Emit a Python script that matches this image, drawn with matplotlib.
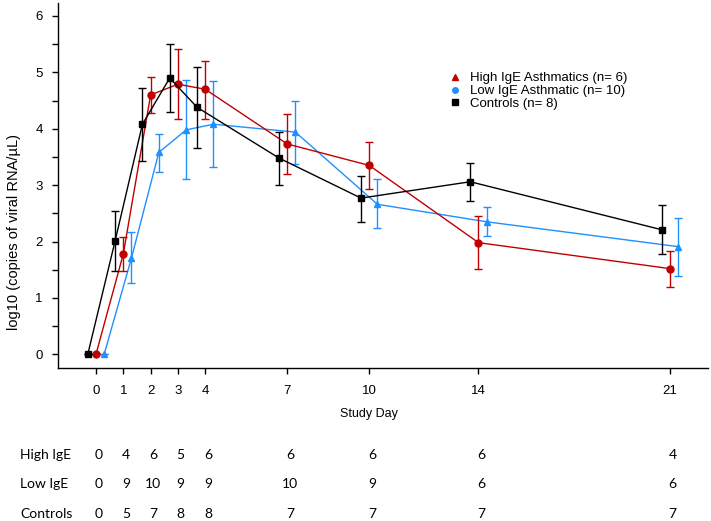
import matplotlib
matplotlib.use("Agg")
import matplotlib.pyplot as plt
from matplotlib.lines import Line2D
from matplotlib.ticker import MultipleLocator
import matplotlib.transforms as mtransforms
import numpy as np

# ---- data ----
days = [0, 1, 2, 3, 4, 7, 10, 14, 21]

high_mean  = [0, 1.78, 4.60, 4.79, 4.70, 3.73, 3.35, 1.98, 1.52]
high_upper = [0, 2.08, 4.91, 5.42, 5.21, 4.26, 3.76, 2.45, 1.84]
high_lower = [0, 1.47, 4.28, 4.17, 4.18, 3.20, 2.93, 1.52, 1.19]

low_mean  = [0, 1.71, 3.58, 3.98, 4.08, 3.94, 2.66, 2.35, 1.91]
low_upper = [0, 2.16, 3.91, 4.87, 4.84, 4.50, 3.10, 2.61, 2.42]
low_lower = [0, 1.26, 3.24, 3.10, 3.33, 3.38, 2.24, 2.09, 1.39]

ctrl_mean  = [0, 2.01, 4.08, 4.90, 4.38, 3.48, 2.77, 3.06, 2.21]
ctrl_upper = [0, 2.54, 4.72, 5.51, 5.09, 3.94, 3.17, 3.39, 2.65]
ctrl_lower = [0, 1.47, 3.43, 4.30, 3.66, 3.00, 2.34, 2.72, 1.78]

high_n = [0, 4, 6, 5, 6, 6, 6, 6, 4]
low_n  = [0, 9, 10, 9, 9, 10, 9, 6, 6]
ctrl_n = [0, 5, 7, 8, 8, 7, 7, 7, 7]

row_labels = ["High IgE", "Low IgE", "Controls"]
legend_labels = ["High IgE Asthmatics (n= 6)", "Low IgE Asthmatic (n= 10)", "Controls (n= 8)"]

RED = "#C00000"
BLUE = "#1E90FF"
BLACK = "#000000"

fig = plt.figure(figsize=(7.11, 5.21), dpi=100)
W, H = 711, 521
ax = fig.add_axes([58 / W, 1 - 368 / H, (708 - 58) / W, (368 - 3) / H])

d = np.array(days, dtype=float)

def plot_series(offset, mean, lo, up, color, marker, ms, z):
    mean = np.array(mean); lo = np.array(lo); up = np.array(up)
    yerr = np.vstack([mean - lo, up - mean])
    ax.errorbar(d + offset, mean, yerr=yerr, color=color, marker=marker,
                markersize=ms, lw=1.0, elinewidth=1.0, capsize=3.2,
                capthick=1.0, zorder=z)

plot_series(0.0, high_mean, high_lower, high_upper, RED, "o", 5, 3)
plot_series(0.3, low_mean, low_lower, low_upper, BLUE, "^", 5, 2)
plot_series(-0.3, ctrl_mean, ctrl_lower, ctrl_upper, BLACK, "s", 5, 4)

ax.set_xlim(-1.39, 22.4)
ax.set_ylim(-0.243, 6.23)
ax.set_xticks(days)
ax.set_xticklabels([str(x) for x in days])
ax.yaxis.set_major_locator(MultipleLocator(1))
ax.yaxis.set_minor_locator(MultipleLocator(0.5))

for s in ["top", "right"]:
    ax.spines[s].set_visible(False)
for s in ["left", "bottom"]:
    ax.spines[s].set_linewidth(1.0)

ax.tick_params(axis="both", which="both", direction="out", length=4, width=1.0)
ax.tick_params(axis="x", pad=8)
ax.tick_params(axis="y", pad=7)
for lab in ax.get_xticklabels() + ax.get_yticklabels():
    lab.set_fontfamily("Liberation Sans")
    lab.set_fontsize(9.5)

ax.set_ylabel("log10 (copies of viral RNA/\u00b5L)", fontsize=10.5,
              family="Liberation Sans")
ax.yaxis.set_label_coords((14 - 58) / 650, (368 - 232) / 365)
ax.yaxis.label.set_va("center")

ax.set_xlabel("Study Day", fontsize=9, family=["Liberation Sans Narrow", "Liberation Sans"])
ax.xaxis.set_label_coords((369 - 58) / 650, (368 - 414) / 365)
ax.xaxis.label.set_va("center")

# legend (markers as in the reference legend)
handles = [
    Line2D([], [], color=RED, marker="^", ls="none", markersize=4.5),
    Line2D([], [], color=BLUE, marker="o", ls="none", markersize=4),
    Line2D([], [], color=BLACK, marker="s", ls="none", markersize=4),
]
leg = ax.legend(handles, legend_labels, loc="upper left",
                bbox_to_anchor=(448 / W, 1 - 72 / H), bbox_transform=fig.transFigure,
                frameon=False, handlelength=1.0, handletextpad=0.7,
                labelspacing=0.05, borderpad=0, borderaxespad=0,
                prop={"family": "Liberation Sans", "size": 9.5})

# count table below
trans = mtransforms.blended_transform_factory(ax.transData, fig.transFigure)
row_y = [1 - 455 / H, 1 - 484.5 / H, 1 - 514 / H]
for lab, counts, y in zip(row_labels, [high_n, low_n, ctrl_n], row_y):
    fig.text(20 / W, y, lab, ha="left", va="center", fontsize=10, family="Lato")
    for xd, c in zip(days, counts):
        ax.text(xd + 0.1, y, str(c), transform=trans, ha="center", va="center",
                fontsize=10, family="Lato", clip_on=False)

fig.savefig("out.png", dpi=100)
